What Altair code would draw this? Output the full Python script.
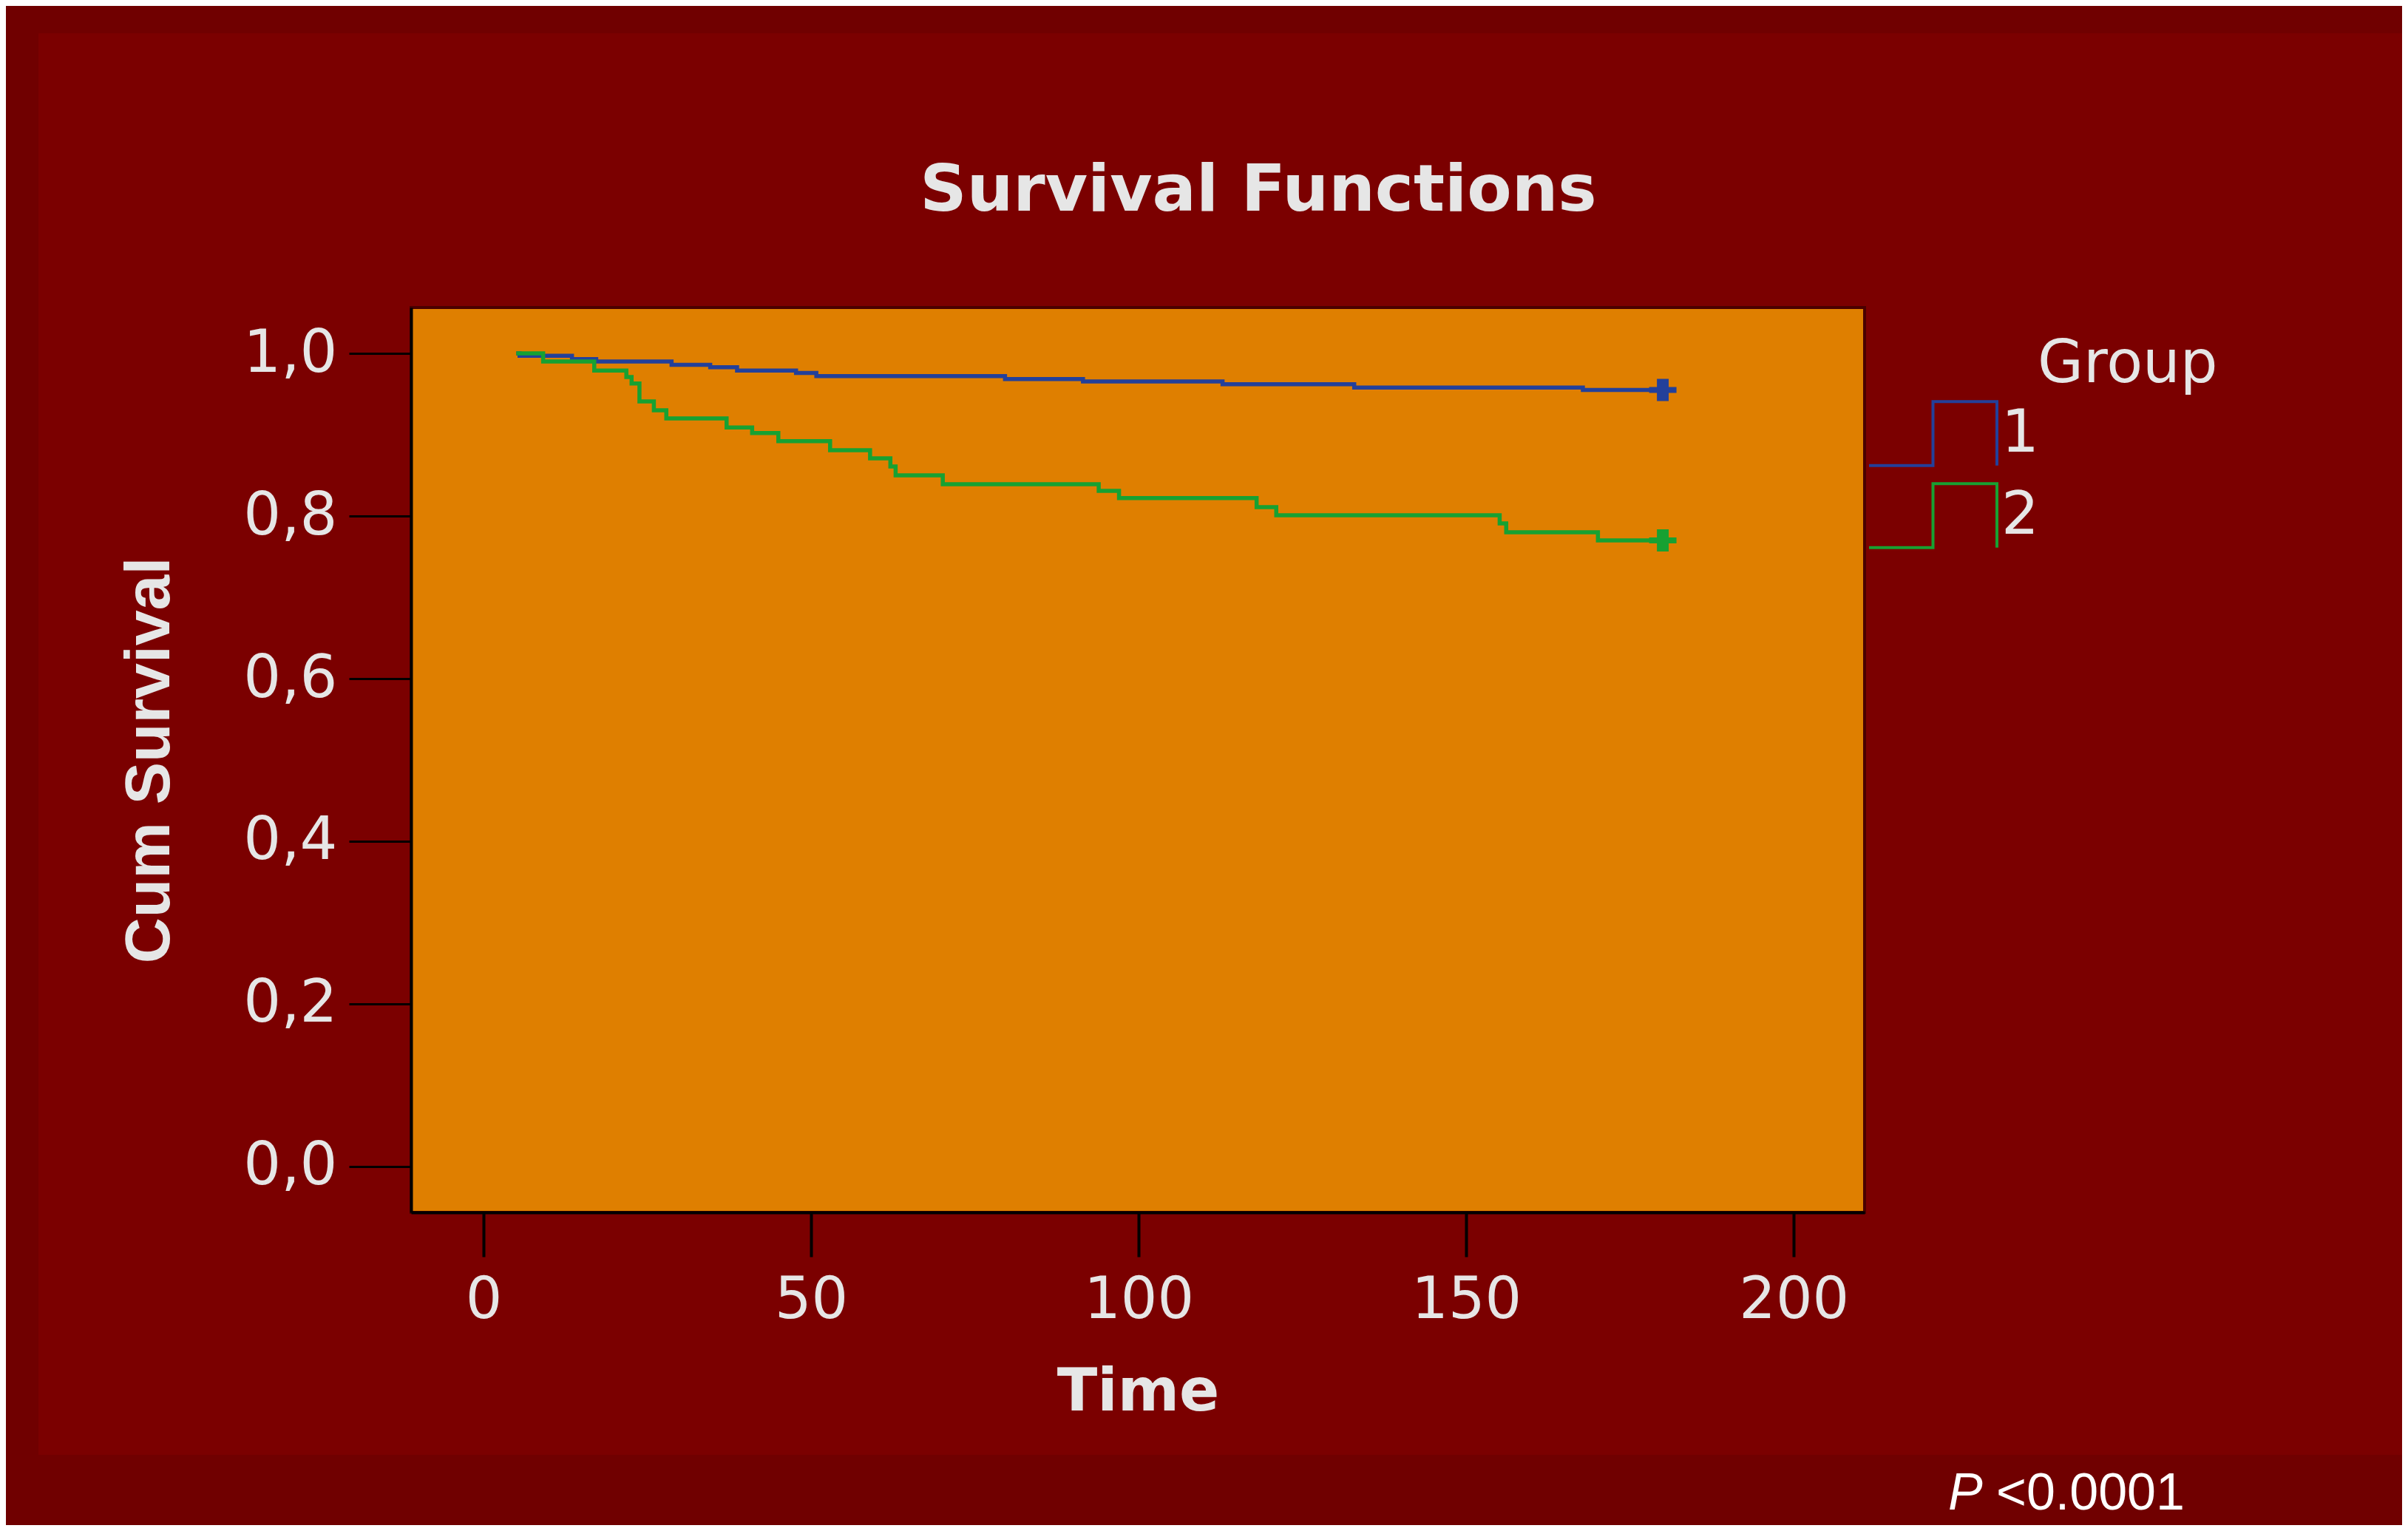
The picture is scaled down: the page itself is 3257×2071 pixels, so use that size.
import altair as alt
import pandas as pd

# ---- data ----
time_g1 = [5, 5.5, 13.5, 17.2, 28.7, 34.6, 38.7, 47.7, 50.8, 79.6, 91.5, 112.8, 132.9, 167.8, 180]
surv_g1 = [1.0, 0.997, 0.993, 0.990, 0.986, 0.983, 0.979, 0.976, 0.972, 0.9685, 0.9655, 0.962, 0.958, 0.955, 0.955]

time_g2 = [5, 9.1, 16.9, 21.8, 22.6, 23.8, 26.0, 27.9, 37.1, 41.0, 45.0, 52.9, 59.0, 62.1, 62.9,
           70.1, 93.9, 97.0, 118.0, 121.0, 155.1, 156.1, 170.1, 180]
surv_g2 = [1.0, 0.990, 0.979, 0.971, 0.963, 0.941, 0.930, 0.920, 0.909, 0.902, 0.892, 0.881, 0.871, 0.861, 0.850,
           0.839, 0.831, 0.822, 0.811, 0.801, 0.791, 0.780, 0.770, 0.770]

groups = ["1", "2"]
group_colors = ["#23409A", "#17A132"]
censor_time = [180, 180]
censor_surv = [0.955, 0.770]

x_ticks = [0, 50, 100, 150, 200]
y_ticks = [0.0, 0.2, 0.4, 0.6, 0.8, 1.0]

curves = pd.concat([
    pd.DataFrame({"Time": time_g1, "Survival": surv_g1, "Group": groups[0]}),
    pd.DataFrame({"Time": time_g2, "Survival": surv_g2, "Group": groups[1]}),
], ignore_index=True)
censored = pd.DataFrame({"Time": censor_time, "Survival": censor_surv, "Group": groups})

# ---- layout ----
W, H = 1966, 1224
PAD_L, PAD_T = 548, 408
TOTAL_W, TOTAL_H = 3241, 2055

TXT = "#E6E6E6"
PLUS = "M-1,-0.22H-0.43V-0.81H0.43V-0.22H1V0.22H0.43V0.81H-0.43V0.22H-1Z"
# step-shaped legend symbol, retraced so that it encloses no area
STEP = "M-1,0.5H0V-0.5H1V0.5V-0.5H0V0.5Z"

one = alt.Data(values=[{"k": 0}])

x_enc = alt.X("Time:Q",
              scale=alt.Scale(domain=[-11.06, 210.8], nice=False, zero=False),
              axis=alt.Axis(values=x_ticks, title="Time", grid=False, zindex=1,
                            labelFont="DejaVu Sans", labelFontSize=78, labelColor=TXT,
                            labelPadding=20, tickSize=60, tickWidth=4, tickColor="black",
                            domainColor="black", domainWidth=4,
                            titleFont="DejaVu Sans", titleFontSize=80, titleFontWeight="bold",
                            titleColor=TXT, titlePadding=46))
y_enc = alt.Y("Survival:Q",
              scale=alt.Scale(domain=[-0.0564, 1.0564], nice=False, zero=False),
              axis=alt.Axis(values=y_ticks, title="Cum Survival", grid=False, zindex=1,
                            labelExpr="replace(format(datum.value, '.1f'), '.', ',')",
                            labelFont="DejaVu Sans", labelFontSize=80, labelColor=TXT,
                            labelPadding=16, tickSize=84, tickWidth=3, tickColor="black",
                            domainColor="black", domainWidth=4,
                            titleFont="Liberation Sans", titleFontSize=86,
                            titleFontWeight="bold", titleColor=TXT, titlePadding=110))
color_enc = alt.Color("Group:N",
                      scale=alt.Scale(domain=groups, range=group_colors),
                      legend=alt.Legend(orient="none", legendX=1970, legendY=125, title=None,
                                        symbolType=STEP, symbolSize=29929, symbolStrokeWidth=4,
                                        symbolFillColor="transparent", clipHeight=91,
                                        labelFont="DejaVu Sans", labelFontSize=80, labelColor=TXT,
                                        labelOffset=4, rowPadding=20, padding=0))

panel = alt.Chart(one).mark_rect(color="#7B0000", clip=False).encode(
    x=alt.value(-504), x2=alt.value(2701), y=alt.value(-371), y2=alt.value(1552))
plot_bg = alt.Chart(one).mark_rect(fill="#DF7F00", stroke="#4A0000", strokeWidth=4).encode(
    x=alt.value(0), x2=alt.value(W), y=alt.value(0), y2=alt.value(H))

lines = alt.Chart(curves).mark_line(interpolate="step-after", strokeWidth=5.5).encode(
    x=x_enc, y=y_enc, color=color_enc)
marks = alt.Chart(censored).mark_point(shape=PLUS, filled=True, size=1369, opacity=1).encode(
    x="Time:Q", y="Survival:Q", color=alt.Color("Group:N", legend=None))

legend_title = alt.Chart(one).mark_text(text="Group", font="DejaVu Sans", fontSize=80, color=TXT,
                                       align="left", baseline="alphabetic", clip=False).encode(
    x=alt.value(2200), y=alt.value(101))

p_italic = alt.Chart(one).mark_text(text="P", font="Liberation Sans", fontSize=70, fontStyle="italic",
                                   color="white", align="left", baseline="alphabetic", clip=False).encode(
    x=alt.value(2079), y=alt.value(1626))
p_value = alt.Chart(one).mark_text(text="<0.0001", font="Liberation Sans", fontSize=70,
                                  color="white", align="left", baseline="alphabetic", clip=False).encode(
    x=alt.value(2144), y=alt.value(1626))

chart = alt.layer(panel, plot_bg, lines, marks, legend_title, p_italic, p_value).properties(
    width=W, height=H,
    autosize=alt.AutoSizeParams(type="none"),
    padding={"left": PAD_L, "top": PAD_T, "right": TOTAL_W - PAD_L - W, "bottom": TOTAL_H - PAD_T - H},
    background="#700000",
    title=alt.TitleParams("Survival Functions", font="DejaVu Sans", fontSize=88, fontWeight="bold",
                          color=TXT, anchor="middle", frame="group", dx=163,
                          baseline="alphabetic", offset=-328),
).configure_view(stroke="transparent")

chart.save("out.html", embed_options={"renderer": "svg", "actions": False})
